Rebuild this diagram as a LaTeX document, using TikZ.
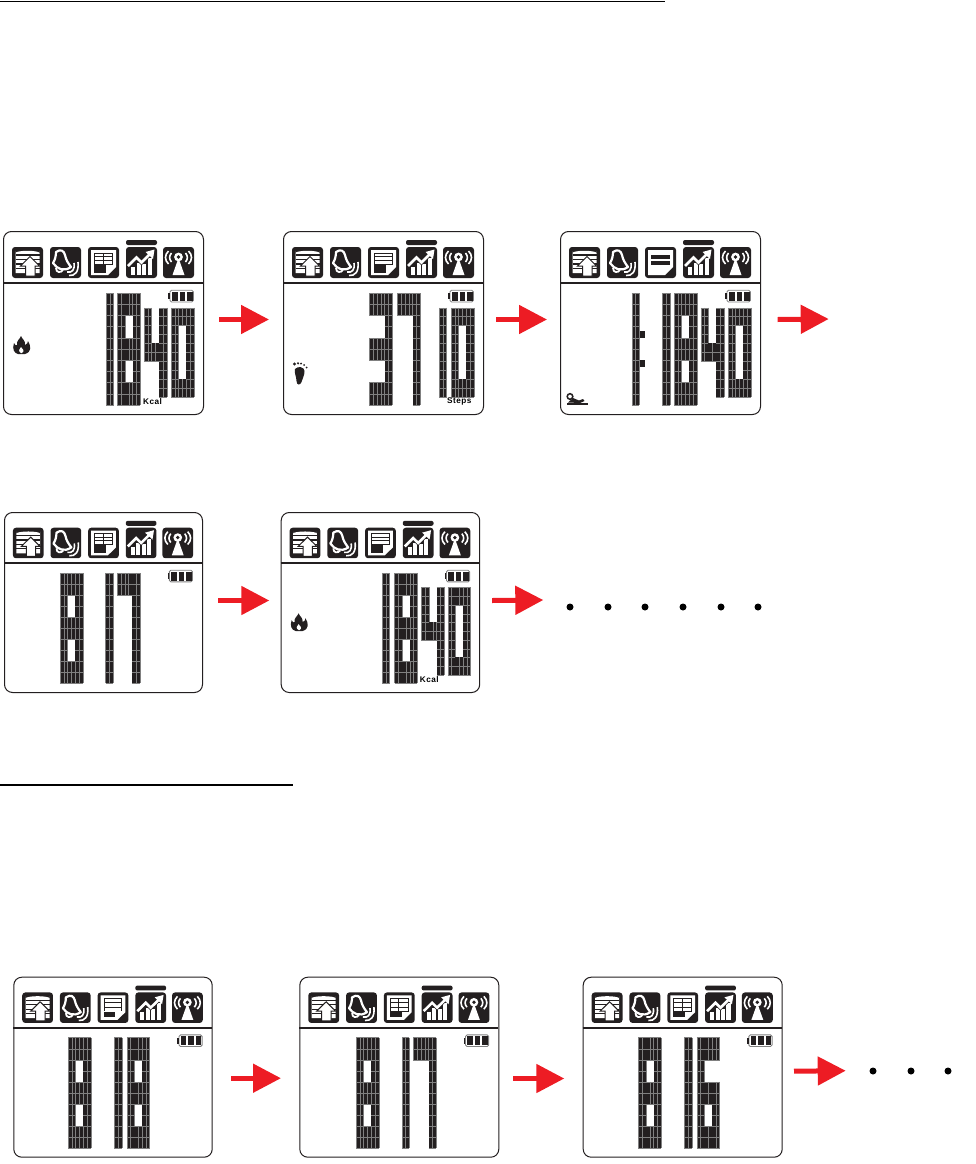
\documentclass[tikz,border=0pt]{standalone}
\usepackage{fontspec}
\usetikzlibrary{arrows.meta,positioning}
\newfontfamily\lcdfont[LetterSpace=6]{Liberation Sans}
\definecolor{lcdblack}{RGB}{35,31,32}
\definecolor{arrowred}{RGB}{237,28,36}
% digit blocks, xa/ya/xb/yb on a 3 by 5 raster
\def\dgone{0/0/1/5}
\def\dgthree{0/0/2/1,0/2/2/3,0/4/2/5,2/0/3/5}
\def\dgfour{0/0/1/3,1/2/2/3,2/0/3/5}
\def\dgsix{0/0/1/5,1/0/3/1,1/2/2/3,1/4/2/5,2/2/3/5}
\def\dgseven{0/0/2/1,2/0/3/5}
\def\dgeight{0/0/1/5,2/0/3/5,1/0/2/1,1/2/2/3,1/4/2/5}
\def\dgzero{0/0/1/5,2/0/3/5,1/0/2/1,1/4/2/5}
\newcommand{\lcddigit}[3]{%
 \begin{scope}[shift={(#1,0)},#2]
 \foreach \xa/\ya/\xb/\yb in #3{
  \fill[lcdblack](\xa,\ya)rectangle(\xb,\yb);
  \draw[lcdgrid](\xa,\ya)grid(\xb,\yb);
 }
 \end{scope}}
% the five icons, each in a 31 by 31 box
\newcommand{\iconstore}{%
 \fill[white](3.5,6)arc[start angle=180,end angle=360,x radius=12,y radius=2.2]--(27.5,4)--(27.5,26)--(3.5,26)--(3.5,4)--cycle;
 \foreach \yy in {8,12.5,17,21.5}{\draw[lcdblack,line width=1.2pt](3.5,\yy)--(27.5,\yy);}
 \fill[white,draw=lcdblack,line width=1pt](18,9.5)--(27.5,19)--(23,19)--(23,29)--(13.5,29)--(13.5,19)--(8.5,19)--cycle;}
\newcommand{\iconbell}{%
 \draw[white,line width=2.2pt,line join=round](6,5)..controls(11,1.5)and(14,4)..(15,8)..controls(16,13)and(18,16)..(21,20)..controls(14,25)and(7,22)..(3,16)..controls(5,13)and(6,9)..(6,5)--cycle;
 \draw[white,line width=1.8pt](6,21)..controls(6,26)and(11,26)..(13,23);
 \draw[white,line width=1.6pt](17,25)..controls(22,26)and(25,23)..(24,16);
 \draw[white,line width=1.6pt](19,28.5)..controls(25,29)and(29,25)..(28,15);}
\newcommand{\iconpage}[1]{%
 \fill[white](3,3)--(28,3)--(28,20)--(20,28)--(3,28)--cycle;
 #1}
\newcommand{\pagegrid}{\iconpage{%
 \draw[lcdblack,line width=1pt](6.5,6)rectangle(24.5,17);
 \draw[lcdblack,line width=1pt](6.5,9.7)--(24.5,9.7)(6.5,13.4)--(24.5,13.4)(15,6)--(15,17);
 \fill[lcdblack](6,17)rectangle(18,25.5);}}
\newcommand{\pagegridbar}{\iconpage{%
 \draw[lcdblack,line width=1pt](6.5,6)rectangle(24.5,19);
 \draw[lcdblack,line width=1pt](6.5,10.5)--(24.5,10.5)(6.5,15)--(24.5,15)(15,6)--(15,19);
 \fill[lcdblack](6,20)rectangle(18,25);}}
\newcommand{\pagelines}{\iconpage{%
 \draw[lcdblack,line width=1pt](6.5,6)rectangle(24.5,17);
 \draw[lcdblack,line width=1pt](6.5,9.7)--(24.5,9.7)(6.5,13.4)--(24.5,13.4);
 \fill[lcdblack](6,17)rectangle(18,25.5);}}
\newcommand{\pagelinesbar}{\iconpage{%
 \draw[lcdblack,line width=1pt](6.5,6)--(24.5,6)(6.5,10.5)--(24.5,10.5)(6.5,15)--(24.5,15)(6.5,6)--(6.5,19)(24.5,6)--(24.5,19);
 \fill[lcdblack](6,20)rectangle(18,25);}}
\newcommand{\pagememo}{\iconpage{%
 \fill[lcdblack](6,8)rectangle(25,18);
 \fill[white](6,12.3)rectangle(25,13.9);}}
\newcommand{\iconchart}{%
 \foreach \xx/\yy in {5/20,10.5/16,16/17,21.5/11}{\fill[white](\xx,\yy)rectangle(\xx+4.2,28);}
 \draw[lcdblack,line width=4pt](2,19)--(10.5,10.5)--(15.5,15.5)--(24,7);
 \draw[white,line width=2.6pt](2,19)--(10.5,10.5)--(15.5,15.5)--(24,7);
 \fill[white](28.5,2.5)--(27,12)--(19.5,5)--cycle;}
\newcommand{\iconmast}{%
 \foreach \sgn in {0,1}{
  \begin{scope}[shift={(15.5,0)},xscale=1-2*\sgn]
  \draw[white,line width=1.6pt](-7,6)..controls(-9.5,9)and(-9.5,12)..(-7,15);
  \draw[white,line width=1.6pt](-10,4)..controls(-14,8)and(-14,13)..(-10,17);
  \end{scope}}
 \fill[white](15.5,11)--(21.5,28)--(9.5,28)--cycle;
 \fill[white](15.5,10)circle(4.4);
 \fill[lcdblack](15.5,10)circle(1.9);}
% one display; everything inside is laid out on a 200 by 183 panel
\newcommand{\lcdpanel}[7]{%
 \node[lcdframe,minimum width=#4pt,minimum height=#5pt,anchor=north west](#1)at(#2,#3){};
 \begin{scope}[shift={(#2,#3)},xscale=#4/200,yscale=#5/183]
 \draw[lcdblack,line width=1.6pt](0,52)--(200,52);
 \foreach \xx/\ii in {9/\iconstore,47/\iconbell,85/#6,123/\iconchart,160/\iconmast}{
  \begin{scope}[shift={(\xx,16)}]
  \fill[lcdblack,rounded corners=3pt](0,0)rectangle(31,31);
  \ii
  \end{scope}}
 \fill[lcdblack,rounded corners=2pt](123,9)rectangle(154,14);
 % battery
 \draw[gray,line width=.9pt,rounded corners=1.5pt](167,59.2)rectangle(190.3,71);
 \fill[lcdblack](165.3,62)rectangle(167,68);
 \foreach \xx in {169,176.6,184}{\fill[lcdblack](\xx,60.5)rectangle(\xx+5.5,69.7);}
 #7
 \end{scope}}
\newcommand{\flamemark}{%
 \fill[lcdblack](15,123)..controls(11,122)and(9,118)..(11,112)..controls(12,114)and(13,115)..(14,114)..controls(13,110)and(17,108)..(18,105)..controls(19,108)and(23,110)..(22,114)..controls(24,113)and(25,112)..(25,110)..controls(28,115)and(29,121)..(22,123)--cycle;
 \fill[white](18,122)..controls(15,120)and(16,118)..(18,116)..controls(20,118)and(22,120)..(19,122)--cycle;}
\newcommand{\footmark}{%
 \fill[lcdblack](12,138)..controls(15,134.5)and(21.5,136)..(21.5,140)..controls(21.5,145)and(19.5,147)..(18.5,151)..controls(17.5,154.5)and(13.5,154.5)..(13.5,150)..controls(13.5,146)and(11,142)..(12,138)--cycle;
 \foreach \xx/\yy/\rr in {11.5/133/1.7,15/132.3/1.2,18/132.6/1.1,21/134/1,23.5/136.5/1}{\fill[lcdblack](\xx,\yy)circle(\rr);}}
\newcommand{\sleepmark}{%
 \draw[lcdblack,line width=1.5pt](10,165.5)circle(2.8);
 \fill[lcdblack](8,171.5)--(13,167)--(19,169.5)--(23,168)--(24.5,170)--(20,172)--cycle;
 \draw[lcdblack,line width=1.6pt](7,173)--(28,173);}
\begin{document}
\begin{tikzpicture}[x=1pt,y=-1pt,
lcdframe/.style={draw=lcdblack,line width=1pt,rounded corners=8pt,inner sep=0pt,fill=none},
lcdgrid/.style={draw=gray,line width=.4pt,step=.5},
tallrow/.style={shift={(0,62)},x=7.67pt,y=22.4pt,yscale=-1},
shortrow/.style={shift={(0,76.7)},x=7.67pt,y=17.8pt,yscale=-1},
lcdlabel/.style={font=\lcdfont\bfseries\fontsize{8.2}{9}\selectfont,inner sep=0pt,anchor=west},
redarr/.style={-{Triangle[length=28pt,width=28pt]},line width=5pt,draw=arrowred},
dotmark/.style={circle,fill=black,inner sep=0pt,minimum size=7pt}]
\useasboundingbox(0,0)rectangle(975,1164);

\draw[black,line width=1.2pt](0,1.2)--(665,1.2);
\draw[black,line width=1.2pt](0,785)--(293,785);

% first row
\lcdpanel{panelA}{3}{231}{200}{183}{\pagegrid}{
 \lcddigit{103}{tallrow}{\dgone}\lcddigit{114.3}{tallrow}{\dgeight}
 \lcddigit{141}{shortrow}{\dgfour}\lcddigit{168}{shortrow}{\dgzero}
 \node[lcdlabel](kcalA)at(140,170.8){Kcal};
 \flamemark}
\lcdpanel{panelB}{283}{231}{200}{183}{\pagelines}{
 \lcddigit{86.3}{tallrow}{\dgthree}\lcddigit{114.3}{tallrow}{\dgseven}
 \lcddigit{156}{shortrow}{\dgone}\lcddigit{168}{shortrow}{\dgzero}
 \node[lcdlabel](stepsB)at(164,170.8){Steps};
 \footmark}
\lcdpanel{panelC}{560}{231}{200}{183}{\pagememo}{
 \lcddigit{71.7}{tallrow}{\dgone}\lcddigit{102.3}{tallrow}{\dgone}
 \lcddigit{114}{tallrow}{\dgeight}\lcddigit{140.7}{shortrow}{\dgfour}
 \lcddigit{168}{shortrow}{\dgzero}
 \fill[lcdblack](80,100)rectangle(85,107);
 \fill[lcdblack](80,129)rectangle(85,136);
 \sleepmark}
\coordinate(endC)at(828.7,319);
\draw[redarr]([shift={(15,-3.5)}]panelA.east)--([shift={(-14,-3.5)}]panelB.west);
\draw[redarr]([shift={(12,-3.5)}]panelB.east)--([shift={(-13,-3.5)}]panelC.west);
\draw[redarr]([shift={(16.7,-3.5)}]panelC.east)--(endC);

% second row
\lcdpanel{panelD}{4}{512}{198}{180}{\pagegrid}{
 \lcddigit{56.5}{tallrow}{\dgeight}\lcddigit{102.7}{tallrow}{\dgone}
 \lcddigit{114.4}{tallrow}{\dgseven}}
\lcdpanel{panelE}{280.7}{512}{198.5}{180}{\pagelines}{
 \lcddigit{102}{tallrow}{\dgone}\lcddigit{114.7}{tallrow}{\dgeight}
 \lcddigit{141.7}{shortrow}{\dgfour}\lcddigit{168.3}{shortrow}{\dgzero}
 \node[lcdlabel](kcalE)at(140,170.8){Kcal};
 \begin{scope}[yshift=2pt]\flamemark\end{scope}}
\coordinate(endE)at(543.3,600);
\draw[redarr]([shift={(15,-2)}]panelD.east)--([shift={(-11.4,-2)}]panelE.west);
\draw[redarr]([shift={(12,-2)}]panelE.east)--(endE);
\foreach \i/\xx in {1/570,2/608,3/645,4/683,5/721,6/758}{\node[dotmark](dotE\i)at(\xx,607){};}

% third row
\lcdpanel{panelF}{13.3}{976.7}{198.4}{180}{\pagelinesbar}{
 \lcddigit{55.2}{tallrow}{\dgeight}\lcddigit{102}{tallrow}{\dgone}
 \lcddigit{114.4}{tallrow}{\dgeight}}
\lcdpanel{panelG}{299.3}{976.7}{199}{180}{\pagegridbar}{
 \lcddigit{57}{tallrow}{\dgeight}\lcddigit{103}{tallrow}{\dgone}
 \lcddigit{114.6}{tallrow}{\dgseven}}
\lcdpanel{panelH}{582.7}{976.7}{199}{180}{\pagegridbar}{
 \lcddigit{56}{tallrow}{\dgeight}\lcddigit{102}{tallrow}{\dgone}
 \lcddigit{114.6}{tallrow}{\dgsix}}
\coordinate(endH)at(845.7,1070.7);
\draw[redarr]([shift={(18.3,11)}]panelF.east)--([shift={(-18.3,11)}]panelG.west);
\draw[redarr]([shift={(14,11.3)}]panelG.east)--([shift={(-18.4,11.3)}]panelH.west);
\draw[redarr]([shift={(11.3,4)}]panelH.east)--(endH);
\foreach \i/\xx in {1/873,2/911,3/948}{\node[dotmark](dotH\i)at(\xx,1071){};}
\end{tikzpicture}
\end{document}
